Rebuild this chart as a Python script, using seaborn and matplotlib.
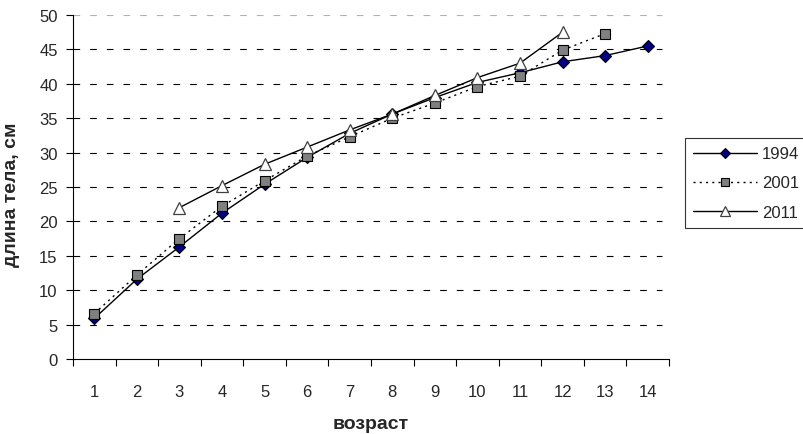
import pandas as pd
import seaborn as sns
import matplotlib
matplotlib.use("Agg")
import matplotlib.pyplot as plt

# data
ages_1994 = list(range(1, 15))
len_1994 = [5.9, 11.6, 16.3, 21.2, 25.4, 29.3, 32.8, 35.6, 38.0, 40.2, 41.6, 43.2, 44.1, 45.5]
ages_2001 = list(range(1, 14))
len_2001 = [6.6, 12.2, 17.5, 22.2, 25.9, 29.5, 32.3, 35.0, 37.2, 39.6, 41.1, 44.9, 47.3]
ages_2011 = list(range(3, 13))
len_2011 = [22.0, 25.2, 28.3, 30.8, 33.3, 35.6, 38.3, 40.9, 43.0, 47.5]

y_ticks = list(range(0, 51, 5))

sns.set_style("white")
plt.rcParams['font.family'] = ['Liberation Sans', 'DejaVu Sans']

fig = plt.figure(figsize=(8.04, 4.35), dpi=100)
ax = fig.add_axes([73 / 804, 1 - 360 / 435, (669 - 73) / 804, (360 - 16) / 435])

df94 = pd.DataFrame({'age': ages_1994, 'len': len_1994})
df01 = pd.DataFrame({'age': ages_2001, 'len': len_2001})
df11 = pd.DataFrame({'age': ages_2011, 'len': len_2011})

# dashed horizontal grid, drawn under the series
for v in y_ticks[1:]:
    ax.axhline(v, xmax=(662 - 73) / 596, color='black' if v < 50 else '#b0b0b0',
               lw=0.8, ls=(0, (6, 9)), zorder=0)

sns.lineplot(data=df94, x='age', y='len', ax=ax, color='black', lw=1.0,
             marker='D', markersize=6, markerfacecolor='#000080',
             markeredgecolor='black', markeredgewidth=0.8, label='1994', zorder=3)
sns.lineplot(data=df01, x='age', y='len', ax=ax, color='black', lw=1.0,
             linestyle=(0, (1.5, 3)), marker='s', markersize=6.5,
             markerfacecolor='#808080', markeredgecolor='black',
             markeredgewidth=0.8, label='2001', zorder=4)
sns.lineplot(data=df11, x='age', y='len', ax=ax, color='black', lw=1.0,
             marker='^', markersize=8, markerfacecolor='white',
             markeredgecolor='#404040', markeredgewidth=0.9, label='2011', zorder=5)

ax.set_xlim(0.5, 14.5)
ax.set_ylim(0, 50)
ax.set_yticks(y_ticks)
ax.set_xticks(range(1, 15))
ax.set_xticks([i + 0.5 for i in range(0, 15)], minor=True)
ax.tick_params(axis='x', which='major', length=0, pad=18, labelsize=12)
ax.tick_params(axis='x', which='minor', length=5, width=0.8, color='black', direction='out', bottom=True)
ax.tick_params(axis='y', length=5, width=0.8, color='black', direction='out', left=True, labelsize=12, pad=6)

for side in ['top', 'right']:
    ax.spines[side].set_visible(False)
for side in ['left', 'bottom']:
    ax.spines[side].set_color('black')
    ax.spines[side].set_linewidth(0.8)

ax.set_xlabel('возраст', fontsize=14, fontweight='bold')
ax.set_ylabel('длина тела, см', fontsize=14, fontweight='bold')
ax.xaxis.set_label_coords((371 - 73) / 596, (360 - 416) / 344)
ax.yaxis.set_label_coords((20 - 73) / 596, (360 - 195) / 344)

ax.get_legend().remove()
h, l = ax.get_legend_handles_labels()
leg = fig.legend(h, l, loc='upper left', bbox_to_anchor=(685 / 804, 1 - 139 / 435),
                 frameon=True, fancybox=False, edgecolor='black', fontsize=12,
                 borderaxespad=0, handlelength=3.8, handletextpad=0.3,
                 labelspacing=0.85, borderpad=0.5, markerscale=0.85)
leg.get_frame().set_linewidth(0.8)

fig.savefig('out.png', dpi=100)
